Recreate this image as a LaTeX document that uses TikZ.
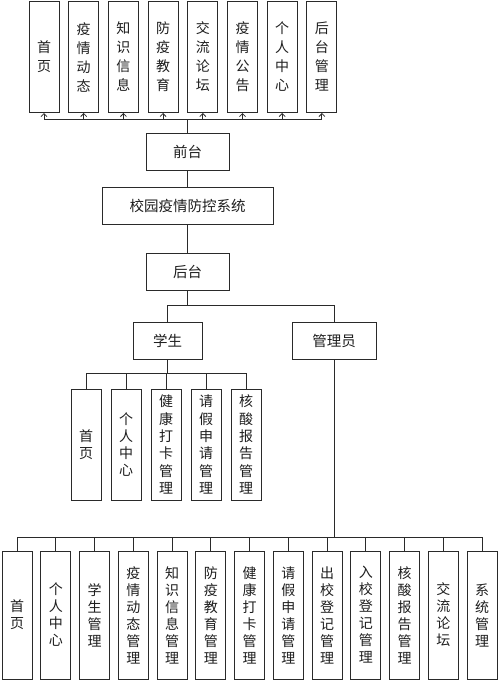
\documentclass[tikz,border=0pt]{standalone}
\usepackage{fontspec}
\setmainfont{Noto Sans CJK SC}
\usetikzlibrary{arrows.meta}
\definecolor{ln}{HTML}{2A2A2A}
\definecolor{tx}{HTML}{1E1E1E}
\tikzset{
  box/.style={draw=ln, line width=1pt, fill=white, inner sep=0pt, text=tx, align=center},
  hbox/.style={box, minimum height=37pt, font=\fontsize{14.5}{16}\selectfont},
  topbox/.style={box, minimum width=30pt, minimum height=111pt, font=\fontsize{14}{19}\selectfont},
  stubox/.style={box, minimum width=30pt, minimum height=111pt, font=\fontsize{14}{17.3}\selectfont},
  botbox/.style={box, minimum width=30pt, minimum height=128pt, font=\fontsize{14}{17}\selectfont},
  conn/.style={draw=ln, line width=0.9pt},
  arr/.style={conn, -{Straight Barb[length=3pt,width=6pt,line width=0.8pt]}}
}
\begin{document}
\begin{tikzpicture}[x=1pt,y=-1pt]
\useasboundingbox[fill=white] (0,0) rectangle (500,683);
% top row
\node[topbox] (t1) at (44,57) {首\\页};
\node[topbox] (t2) at (83.7,57) {疫\\情\\动\\态};
\node[topbox] (t3) at (123.4,57) {知\\识\\信\\息};
\node[topbox] (t4) at (163.1,57) {防\\疫\\教\\育};
\node[topbox] (t5) at (202.8,57) {交\\流\\论\\坛};
\node[topbox] (t6) at (242.5,57) {疫\\情\\公\\告};
\node[topbox] (t7) at (282.2,57) {个\\人\\中\\心};
\node[topbox] (t8) at (321.9,57) {后\\台\\管\\理};
% central column
\node[hbox, minimum width=83pt] (qt) at (187.5,151.5) {前台};
\node[hbox, minimum width=171pt] (sys) at (187.5,205.5) {校园疫情防控系统};
\node[hbox, minimum width=83pt] (ht) at (187.5,271.5) {后台};
\node[hbox, minimum width=69pt] (xs) at (167.5,340.5) {学生};
\node[hbox, minimum width=84pt] (gl) at (334,340.5) {管理员};
% student children
\node[stubox] (s1) at (86,444.5) {首\\页};
\node[stubox] (s2) at (126,444.5) {个\\人\\中\\心};
\node[stubox] (s3) at (166,444.5) {健\\康\\打\\卡\\管\\理};
\node[stubox] (s4) at (206,444.5) {请\\假\\申\\请\\管\\理};
\node[stubox] (s5) at (246,444.5) {核\\酸\\报\\告\\管\\理};
% admin children
\node[botbox] (b1) at (17,615) {首\\页};
\node[botbox] (b2) at (55.75,615) {个\\人\\中\\心};
\node[botbox] (b3) at (94.5,615) {学\\生\\管\\理};
\node[botbox] (b4) at (133.25,615) {疫\\情\\动\\态\\管\\理};
\node[botbox] (b5) at (172,615) {知\\识\\信\\息\\管\\理};
\node[botbox] (b6) at (210.75,615) {防\\疫\\教\\育\\管\\理};
\node[botbox] (b7) at (249.5,615) {健\\康\\打\\卡\\管\\理};
\node[botbox] (b8) at (288.25,615) {请\\假\\申\\请\\管\\理};
\node[botbox] (b9) at (327,615) {出\\校\\登\\记\\管\\理};
\node[botbox] (b10) at (365.75,615) {入\\校\\登\\记\\管\\理};
\node[botbox] (b11) at (404.5,615) {核\\酸\\报\\告\\管\\理};
\node[botbox] (b12) at (443.25,615) {交\\流\\论\\坛};
\node[botbox] (b13) at (482,615) {系\\统\\管\\理};
% bus coordinates
\coordinate (busT) at (0,119);
\coordinate (busH) at (0,305);
\coordinate (busS) at (0,373);
\coordinate (busB) at (0,537);
% top connectors
\draw[conn] (qt.north) -- (qt.north |- busT);
\draw[conn] (t1.south |- busT) -- (t8.south |- busT);
\foreach \i in {1,...,8} { \draw[arr] (t\i.south |- busT) -- (t\i.south); }
% central
\draw[conn] (qt.south) -- (sys.north);
\draw[conn] (sys.south) -- (ht.north);
\draw[conn] (ht.south) -- (ht.south |- busH);
\draw[conn] (xs.north) -- (xs.north |- busH) -- (gl.north |- busH) -- (gl.north);
% student
\draw[conn] (xs.south) -- (xs.south |- busS);
\draw[conn] (s1.north |- busS) -- (s5.north |- busS);
\foreach \i in {1,...,5} { \draw[conn] (s\i.north |- busS) -- (s\i.north); }
% admin
\draw[conn] (gl.south) -- (gl.south |- busB);
\draw[conn] (b1.north |- busB) -- (b13.north |- busB);
\foreach \i in {1,...,13} { \draw[conn] (b\i.north |- busB) -- (b\i.north); }
\end{tikzpicture}
\end{document}
